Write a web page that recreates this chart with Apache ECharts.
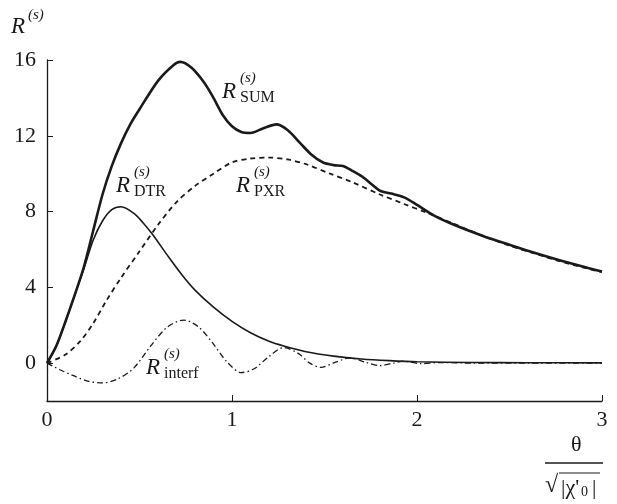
<!DOCTYPE html>
<html>
<head>
<meta charset="utf-8">
<script src="https://cdn.jsdelivr.net/npm/echarts@6/dist/echarts.min.js"></script>
<style>
html,body{margin:0;padding:0;background:#fff;}
#c{width:617px;height:504px;}
</style>
</head>
<body>
<div id="c"></div>
<script>
// ---- data ----
const xTicks = [0, 1, 2, 3];
const yTicks = [0, 4, 8, 12, 16];

const sumX = [0, 0.05, 0.1, 0.15, 0.2, 0.25, 0.3, 0.35, 0.4, 0.45, 0.5, 0.6, 0.68, 0.72, 0.78, 0.85, 0.9, 0.95, 1.0, 1.05, 1.1, 1.17, 1.24, 1.3, 1.37, 1.43, 1.49, 1.55, 1.6, 1.65, 1.71, 1.76, 1.8, 1.86, 1.93, 2.0, 2.09, 2.2, 2.36, 2.5, 2.63, 2.8, 3.0];
const sumY = [0, 0.9, 2.2, 3.6, 5.1, 7.0, 8.9, 10.4, 11.6, 12.6, 13.4, 14.9, 15.7, 15.9, 15.6, 14.8, 14.0, 13.1, 12.5, 12.2, 12.15, 12.4, 12.6, 12.3, 11.6, 11.0, 10.6, 10.45, 10.4, 10.15, 9.8, 9.4, 9.1, 8.95, 8.75, 8.35, 7.8, 7.3, 6.7, 6.25, 5.84, 5.35, 4.83];

const dtrX = [0, 0.05, 0.1, 0.15, 0.2, 0.25, 0.3, 0.35, 0.4, 0.47, 0.52, 0.57, 0.65, 0.73, 0.8, 0.9, 1.0, 1.1, 1.2, 1.28, 1.4, 1.55, 1.7, 1.85, 2.0, 2.3, 2.6, 3.0];
const dtrY = [0, 0.9, 2.2, 3.6, 5.0, 6.5, 7.5, 8.1, 8.25, 7.9, 7.4, 6.8, 5.7, 4.65, 3.85, 2.95, 2.2, 1.6, 1.15, 0.9, 0.6, 0.37, 0.22, 0.13, 0.07, 0.03, 0.02, 0.01];

const pxrX = [0, 0.1, 0.18, 0.25, 0.32, 0.4, 0.5, 0.6, 0.7, 0.8, 0.9, 1.0, 1.1, 1.2, 1.3, 1.4, 1.53, 1.65, 1.8, 1.93, 2.05, 2.2, 2.36, 2.5, 2.63, 2.8, 3.0];
const pxrY = [0, 0.45, 1.16, 2.1, 3.28, 4.5, 5.9, 7.3, 8.5, 9.35, 10.0, 10.6, 10.8, 10.85, 10.75, 10.5, 10.0, 9.55, 8.9, 8.4, 7.95, 7.35, 6.7, 6.2, 5.8, 5.3, 4.8];

const intX = [0, 0.07, 0.14, 0.22, 0.3, 0.38, 0.47, 0.56, 0.65, 0.74, 0.82, 0.9, 0.97, 1.05, 1.12, 1.2, 1.28, 1.36, 1.42, 1.48, 1.56, 1.64, 1.72, 1.8, 1.87, 1.93, 2.02, 2.12, 2.3, 2.6, 3.0];
const intY = [0, -0.35, -0.65, -0.95, -1.04, -0.85, -0.25, 0.9, 1.9, 2.27, 1.9, 1.0, 0.1, -0.5, -0.3, 0.35, 0.82, 0.5, 0.0, -0.22, 0.05, 0.28, 0.05, -0.13, 0.0, 0.1, -0.03, 0.03, 0, 0, 0];

// ---- chart ----
const FONT = '"Liberation Serif", "DejaVu Serif", serif';
const INK = '#1a1a1a';
const pairs = (xs, ys) => xs.map((x, i) => [x, ys[i]]);

const chart = echarts.init(document.getElementById('c'), null, {renderer: 'canvas'});

function lbl(parts) {
  return parts.map(p => ({
    type: 'text',
    left: p.x, top: p.y,
    style: {
      text: p.t,
      fill: INK,
      font: (p.it ? 'italic ' : '') + p.s + 'px ' + FONT
    }
  }));
}

function curveLabel(x, y, sub) {
  return [
    {t: 'R', x: x, y: y - 12, s: 23, it: true},
    {t: '(s)', x: x + 18, y: y - 21, s: 15, it: true},
    {t: sub, x: x + 18, y: y - 2, s: 16, it: false}
  ];
}

const textParts = [].concat(
  [{t: 'R', x: 11, y: 15, s: 23, it: true}, {t: '(s)', x: 28, y: 8, s: 15, it: true}],
  curveLabel(222, 92, 'SUM'),
  curveLabel(116, 186, 'DTR'),
  curveLabel(236, 186, 'PXR'),
  curveLabel(146, 368, 'interf'),
  [
    {t: 'θ', x: 571, y: 434, s: 22, it: false},
    {t: '√', x: 545, y: 474, s: 24, it: false},
    {t: '|χ\'', x: 561, y: 477, s: 22, it: false},
    {t: '0', x: 581, y: 485, s: 14, it: false},
    {t: '|', x: 592, y: 477, s: 22, it: false}
  ]
);

const graphics = lbl(textParts);
graphics.push(
  {type: 'line', shape: {x1: 545, y1: 463, x2: 603, y2: 463}, style: {stroke: INK, lineWidth: 1.3}},
  {type: 'line', shape: {x1: 559, y1: 473, x2: 600, y2: 473}, style: {stroke: INK, lineWidth: 1}}
);

chart.setOption({
  animation: false,
  backgroundColor: '#fff',
  grid: {left: 47, right: 15, top: 60, bottom: 103, containLabel: false},
  xAxis: {
    type: 'value', min: 0, max: 3, interval: 1,
    axisLine: {onZero: false, lineStyle: {color: INK, width: 1.3}},
    axisTick: {inside: true, length: 6, lineStyle: {color: INK, width: 1}},
    axisLabel: {color: INK, fontFamily: FONT, fontSize: 22, margin: 8, customValues: xTicks},
    splitLine: {show: false}
  },
  yAxis: {
    type: 'value', min: -2, max: 16,
    axisLine: {show: true, onZero: false, lineStyle: {color: INK, width: 1.3}},
    axisTick: {show: true, inside: true, length: 6, lineStyle: {color: INK, width: 1}, customValues: yTicks},
    axisLabel: {color: INK, fontFamily: FONT, fontSize: 22, margin: 11, customValues: yTicks},
    splitLine: {show: false}
  },
  series: [
    {type: 'line', name: 'SUM', data: pairs(sumX, sumY), smooth: 0.3, showSymbol: false,
     lineStyle: {color: INK, width: 2.6}},
    {type: 'line', name: 'DTR', data: pairs(dtrX, dtrY), smooth: 0.3, showSymbol: false,
     lineStyle: {color: INK, width: 1.6}},
    {type: 'line', name: 'PXR', data: pairs(pxrX, pxrY), smooth: 0.3, showSymbol: false,
     lineStyle: {color: INK, width: 1.8, type: [5, 4]}},
    {type: 'line', name: 'interf', data: pairs(intX, intY), smooth: 0.3, showSymbol: false,
     lineStyle: {color: INK, width: 1.3, type: [6, 3, 1.5, 3]}}
  ],
  graphic: graphics
});
</script>
</body>
</html>
